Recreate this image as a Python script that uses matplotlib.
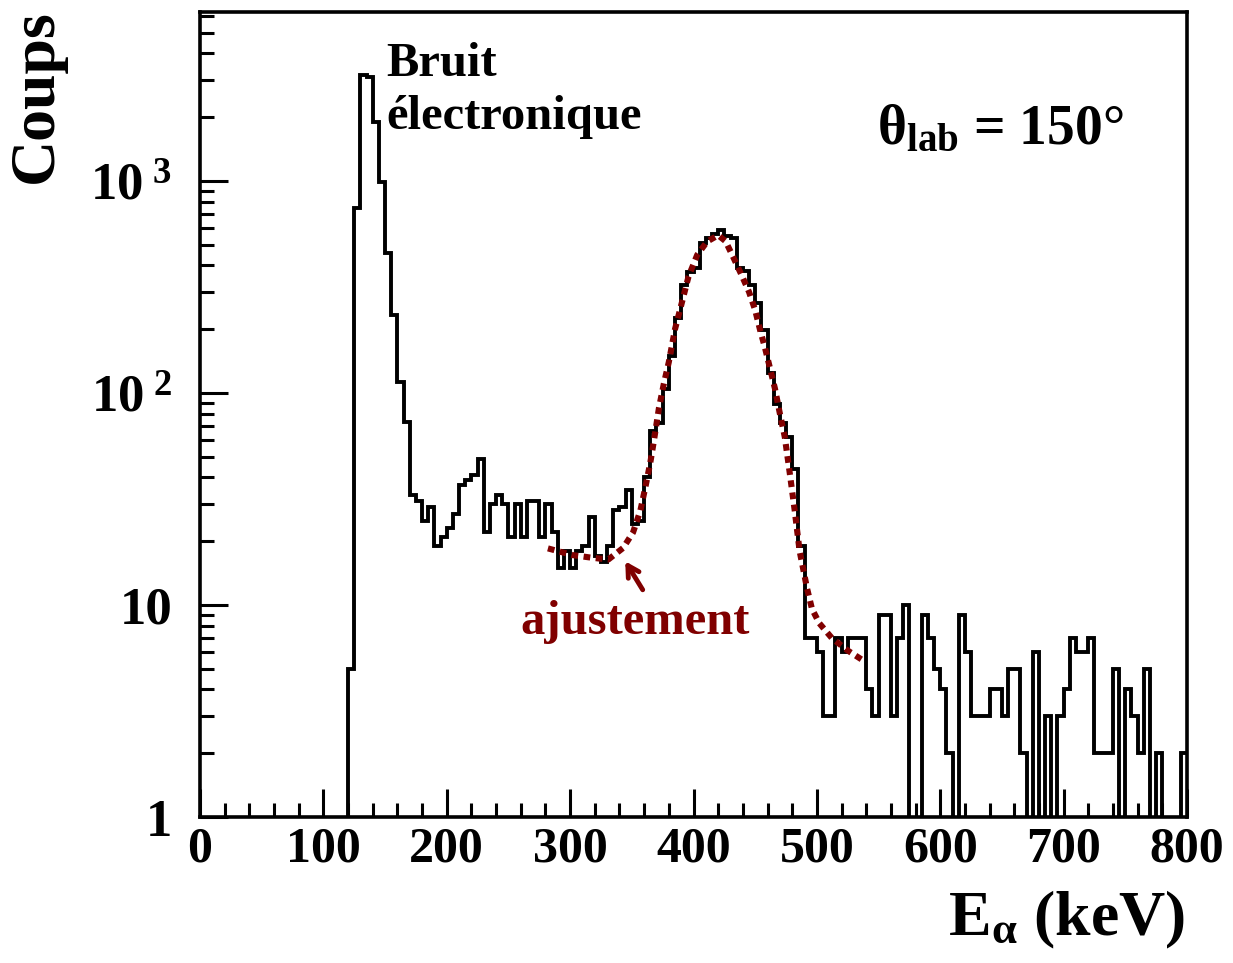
import matplotlib.pyplot as plt
import numpy as np
from matplotlib.ticker import MultipleLocator, LogLocator, NullFormatter

plt.rcParams['font.family'] = 'Liberation Serif'
plt.rcParams['font.weight'] = 'bold'
plt.rcParams['axes.labelweight'] = 'bold'
plt.rcParams['mathtext.fontset'] = 'custom'
plt.rcParams['mathtext.rm'] = 'Liberation Serif:bold'
plt.rcParams['mathtext.bf'] = 'Liberation Serif:bold'
plt.rcParams['mathtext.it'] = 'Liberation Serif:italic'

# spectre alpha, bins de 5 keV entre 0 et 800 keV
bin_edges = np.arange(0, 805, 5)
counts = [0] * 24 + [
    5, 750, 3150, 3100, 1900, 990, 460, 233, 113, 73,
    33, 31, 25, 29, 19, 21, 23, 27, 37, 39,
    41, 49, 22, 30, 33, 30, 21, 30, 21, 31,
    31, 21, 30, 22, 15, 18, 15, 18, 19, 26,
    17, 16, 19, 28, 29, 35, 24, 25, 40, 66,
    72, 105, 150, 226, 323, 372, 390, 510, 540, 560,
    590, 550, 540, 390, 375, 323, 267, 198, 124, 89,
    72, 62, 44, 19, 7, 7, 6, 3, 3, 7,
    6, 7, 7, 7, 4, 3, 9, 9, 3, 7,
    10, 0, 0, 9, 7, 5, 4, 2, 0, 9,
    6, 3, 3, 3, 4, 4, 3, 5, 5, 2,
    0, 6, 0, 3, 0, 3, 4, 7, 6, 6,
    7, 2, 2, 2, 5, 0, 4, 3, 2, 5,
    0, 2, 0, 0, 0, 2,
]

# ajustement (gaussienne + fond)
fit_energy = [282, 302, 318, 331, 343, 351, 357, 361, 365, 368, 372, 376, 380,
              385, 389, 396, 403, 411, 420, 426, 432, 439, 445, 450, 454, 458,
              462, 466, 470, 474, 478, 482, 486, 492, 496, 502, 512, 525, 537]
fit_counts = [18.5, 17.2, 16.7, 16.4, 18.6, 22, 28, 36, 47, 60, 85, 111, 140,
              200, 246, 355, 448, 518, 555, 520, 440, 360, 300, 246, 198, 163,
              131, 105, 80, 62, 42, 28, 18, 12, 9.6, 8.2, 7.0, 6.1, 5.5]

fig = plt.figure(figsize=(12.33, 9.63), dpi=100)
ax = fig.add_axes([0.1622, 0.1516, 0.8005, 0.8359])

vals = np.array(counts, dtype=float)
vals = np.where(vals > 0, vals, 0.1)
ax.stairs(vals, bin_edges, baseline=None, color='black', lw=2.8)
ax.plot(fit_energy, fit_counts, color='#800000', lw=4.4,
        linestyle=(0, (1.1, 0.9)), dash_capstyle='butt')

ax.set_yscale('log')
ax.set_xlim(0, 800)
ax.set_ylim(1, 6270)

ax.xaxis.set_major_locator(MultipleLocator(100))
ax.xaxis.set_minor_locator(MultipleLocator(20))
ax.set_yticks([1, 10, 100, 1000],
              ['1', '10', r'10$^{\ 2}$', r'10$^{\ 3}$'])
ax.yaxis.set_minor_locator(LogLocator(base=10, subs=np.arange(2, 10), numticks=20))
ax.yaxis.set_minor_formatter(NullFormatter())

ax.tick_params(which='both', direction='in', top=False, right=False, width=2.2)
ax.tick_params(which='major', length=20)
ax.tick_params(which='minor', length=10)
ax.tick_params(axis='x', labelsize=36, pad=7)
ax.tick_params(axis='y', labelsize=38, pad=20)
for s in ax.spines.values():
    s.set_linewidth(2.6)

ax.set_ylabel('Coups', fontsize=46, fontweight='bold', ha='right', va='center')
ax.yaxis.set_label_coords(-0.165, 1.003)
ax.set_xlabel(r'E$_{\mathrm{α}}$ (keV)', fontsize=46, fontweight='bold',
              ha='right', va='center')
ax.xaxis.set_label_coords(0.998, -0.128)

ax.text(151, 3565, 'Bruit', fontsize=35, ha='left', va='center')
ax.text(151, 2004, 'électronique', fontsize=35, ha='left', va='center')
ax.text(549, 1740, r'$\mathrm{θ}_{\mathrm{lab}}$ = 150°', fontsize=40,
        ha='left', va='center')
ax.text(353, 8.3, 'ajustement', fontsize=35, color='#800000', ha='center', va='center')
ax.annotate('', xy=(343.5, 16.5), xytext=(360, 11.5),
            arrowprops=dict(arrowstyle='->,head_length=0.8,head_width=0.45',
                            color='#800000', lw=3.5))

fig.savefig('out.png', dpi=100)
